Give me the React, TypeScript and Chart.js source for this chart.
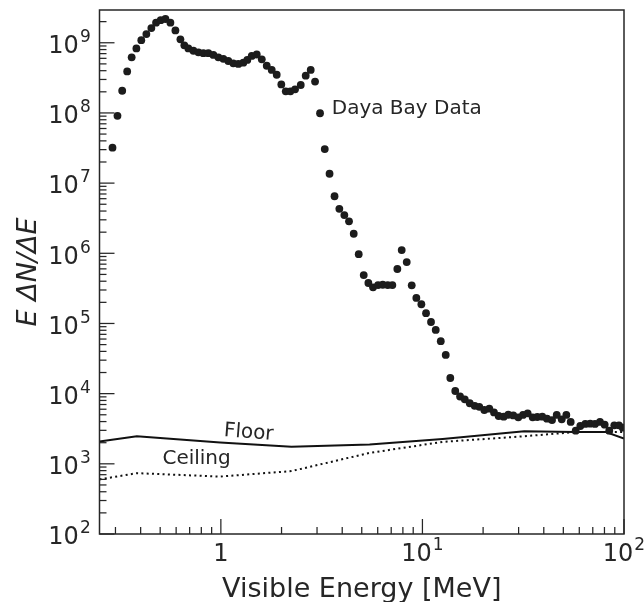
import React, { useEffect, useRef } from "react";
import { Chart, registerables } from "chart.js";

Chart.register(...registerables);

// Daya Bay spectrum (visible energy in MeV, E dN/dE)
const energy = [
  0.290, 0.307, 0.324, 0.343, 0.361, 0.381, 0.403, 0.427, 0.452, 0.477,
  0.503, 0.531, 0.562, 0.595, 0.630, 0.659, 0.690, 0.731, 0.774, 0.819,
  0.867, 0.918, 0.972, 1.029, 1.089, 1.153, 1.221, 1.293, 1.353, 1.423,
  1.507, 1.596, 1.689, 1.788, 1.893, 1.995, 2.099, 2.213, 2.334, 2.491,
  2.636, 2.791, 2.933, 3.105, 3.277, 3.461, 3.664, 3.871, 4.099, 4.323,
  4.562, 4.830, 5.114, 5.393, 5.689, 6.023, 6.355, 6.728, 7.093, 7.509,
  7.892, 8.358, 8.849, 9.330, 9.88, 10.42, 11.03, 11.64, 12.33, 13.05,
  13.75, 14.55, 15.37, 16.22, 17.17, 18.17, 19.15, 20.28, 21.47, 22.65,
  23.89, 25.30, 26.67, 28.24, 29.90, 31.54, 33.27, 35.23, 37.15, 39.33,
  41.50, 43.95, 46.37, 49.10, 51.75, 54.4, 57.6, 60.7, 64.3, 68.0,
  71.8, 76.0, 80.2, 84.5, 89.5, 94.4, 98.6,
];
const spectrum = [
  3.2e7, 9.1e7, 2.07e8, 3.9e8, 6.2e8, 8.3e8, 1.09e9, 1.33e9, 1.62e9, 1.93e9,
  2.10e9, 2.18e9, 1.93e9, 1.50e9, 1.12e9, 9.2e8, 8.3e8, 7.7e8, 7.3e8, 7.1e8,
  7.1e8, 6.7e8, 6.2e8, 5.9e8, 5.5e8, 5.1e8, 5.0e8, 5.2e8, 5.7e8, 6.5e8,
  6.8e8, 5.8e8, 4.7e8, 4.1e8, 3.5e8, 2.55e8, 2.03e8, 2.03e8, 2.17e8, 2.5e8,
  3.4e8, 4.1e8, 2.8e8, 9.9e7, 3.06e7, 1.36e7, 6.5e6, 4.3e6, 3.5e6, 2.85e6,
  1.90e6, 9.7e5, 4.9e5, 3.77e5, 3.27e5, 3.53e5, 3.56e5, 3.53e5, 3.53e5, 5.97e5,
  1.11e6, 7.5e5, 3.50e5, 2.31e5, 1.88e5, 1.40e5, 1.05e5, 8.1e4, 5.6e4, 3.56e4,
  1.67e4, 1.09e4, 9.1e3, 8.3e3, 7.3e3, 6.7e3, 6.5e3, 5.85e3, 6.1e3, 5.4e3,
  4.8e3, 4.7e3, 5.0e3, 4.9e3, 4.6e3, 4.97e3, 5.25e3, 4.6e3, 4.65e3, 4.7e3,
  4.4e3, 4.2e3, 4.97e3, 4.3e3, 4.97e3, 3.95e3, 2.97e3, 3.46e3, 3.70e3, 3.73e3,
  3.70e3, 3.95e3, 3.61e3, 2.97e3, 3.54e3, 3.54e3, 3.27e3,
];

// Floor (solid) and Ceiling (dotted) curves
const floorEnergy = [0.25, 0.383, 0.992, 2.24, 5.47, 12.6, 32.0, 56.9, 81.3, 100];
const floorValues = [2080, 2470, 2010, 1755, 1880, 2250, 2900, 2830, 2830, 2300];
const ceilingEnergy = [0.25, 0.383, 0.992, 2.24, 5.47, 12.6, 32.0, 56.9, 100];
const ceilingValues = [600, 736, 658, 788, 1430, 2055, 2470, 2830, 2830];

// Axis ranges and labelled ticks
const xRange = [0.25, 100];
const yRange = [100, 2.93e9];
const xTickPowers = [0, 1, 2];
const yTickPowers = [2, 3, 4, 5, 6, 7, 8, 9];

// Text annotations (anchored in data coordinates)
const annotations = [
  { text: "Daya Bay Data", x: 3.55, y: 9.6e7, angle: 0 },
  { text: "Floor", x: 1.03, y: 2490, angle: 4.5 },
  { text: "Ceiling", x: 0.513, y: 985, angle: 0 },
];

const xTitle = "Visible Energy [MeV]";
const yTitle = "E ΔN/ΔE";

const INK = "#262626";
const FONT = "'DejaVu Sans', 'Liberation Sans', sans-serif";

export default function App() {
  const ref = useRef<HTMLCanvasElement>(null);

  useEffect(() => {
    const canvas = ref.current;
    if (!canvas) return;

    const drawPower = (
      ctx: CanvasRenderingContext2D,
      p: number,
      x: number,
      baseline: number,
      align: "center" | "right"
    ) => {
      const base = p === 0 ? "1" : "10";
      const exp = p === 0 ? "" : String(p);
      ctx.font = `24px ${FONT}`;
      const wb = ctx.measureText(base).width;
      ctx.font = `17px ${FONT}`;
      const we = exp ? ctx.measureText(exp).width + 1 : 0;
      const total = wb + we;
      const start = align === "center" ? x - total / 2 : x - total;
      ctx.textAlign = "left";
      ctx.textBaseline = "alphabetic";
      ctx.font = `24px ${FONT}`;
      ctx.fillText(base, start, baseline);
      if (exp) {
        ctx.font = `17px ${FONT}`;
        ctx.fillText(exp, start + wb + 1, baseline - 11);
      }
    };

    const decor = {
      id: "mplDecor",
      afterDraw(chart: any) {
        const ctx: CanvasRenderingContext2D = chart.ctx;
        const { left, right, top, bottom } = chart.chartArea;
        const xs = chart.scales.x;
        const ys = chart.scales.y;
        ctx.save();
        ctx.fillStyle = INK;
        ctx.strokeStyle = INK;

        // inward ticks
        ctx.lineWidth = 1.25;
        const tickSet = (scale: any, horiz: boolean) => {
          const lo = Math.floor(Math.log10(scale.min));
          const hi = Math.ceil(Math.log10(scale.max));
          for (let p = lo; p <= hi; p++) {
            for (let m = 1; m <= 9; m++) {
              const v = m * Math.pow(10, p);
              if (v < scale.min * 0.9999 || v > scale.max * 1.0001) continue;
              const len = m === 1 ? 15 : 7;
              const pix = scale.getPixelForValue(v);
              ctx.beginPath();
              if (horiz) {
                ctx.moveTo(pix, bottom);
                ctx.lineTo(pix, bottom - len);
              } else {
                ctx.moveTo(left, pix);
                ctx.lineTo(left + len, pix);
              }
              ctx.stroke();
            }
          }
        };
        tickSet(xs, true);
        tickSet(ys, false);

        // frame
        ctx.lineWidth = 1.5;
        ctx.strokeRect(left, top, right - left, bottom - top);

        // tick labels
        xTickPowers.forEach((p) => {
          const px = xs.getPixelForValue(Math.pow(10, p));
          drawPower(ctx, p, px, bottom + 26.7, "center");
        });
        yTickPowers.forEach((p) => {
          const py = ys.getPixelForValue(Math.pow(10, p));
          drawPower(ctx, p, left - 8.8, py + 10.3, "right");
        });

        // axis titles
        ctx.font = `27px ${FONT}`;
        ctx.textAlign = "center";
        ctx.textBaseline = "alphabetic";
        ctx.fillText(xTitle, (left + right) / 2, bottom + 62.7);

        ctx.save();
        ctx.translate(36, (top + bottom) / 2);
        ctx.rotate(-Math.PI / 2);
        ctx.font = `italic 27px ${FONT}`;
        ctx.fillText(yTitle, 0, 0);
        ctx.restore();

        // annotations
        ctx.font = `20px ${FONT}`;
        ctx.textAlign = "left";
        annotations.forEach((a) => {
          const ax = xs.getPixelForValue(a.x);
          const ay = ys.getPixelForValue(a.y);
          ctx.save();
          ctx.translate(ax, ay);
          ctx.rotate((a.angle * Math.PI) / 180);
          ctx.fillText(a.text, 0, 0);
          ctx.restore();
        });

        ctx.restore();
      },
    };

    const hiddenAxis = (min: number, max: number) => ({
      type: "logarithmic" as const,
      min,
      max,
      display: true,
      ticks: { display: false },
      grid: { display: false, drawTicks: false },
      border: { display: false },
      title: { display: false },
    });

    const chart = new Chart(canvas, {
      type: "scatter",
      data: {
        datasets: [
          {
            label: "Daya Bay Data",
            data: energy.map((e, i) => ({ x: e, y: spectrum[i] })),
            pointRadius: 3.9,
            pointBackgroundColor: "#1c1c1c",
            pointBorderWidth: 0,
            showLine: false,
          },
          {
            label: "Floor",
            type: "line",
            data: floorEnergy.map((e, i) => ({ x: e, y: floorValues[i] })),
            borderColor: "#111111",
            borderWidth: 2,
            pointRadius: 0,
            tension: 0,
            fill: false,
          },
          {
            label: "Ceiling",
            type: "line",
            data: ceilingEnergy.map((e, i) => ({ x: e, y: ceilingValues[i] })),
            borderColor: "#111111",
            borderWidth: 2,
            borderDash: [2, 3.3],
            borderCapStyle: "butt",
            pointRadius: 0,
            tension: 0,
            fill: false,
          },
        ],
      } as any,
      options: {
        responsive: false,
        maintainAspectRatio: false,
        animation: false,
        devicePixelRatio: 1,
        layout: { padding: { left: 99.5, right: 20, top: 10, bottom: 68 } },
        plugins: { legend: { display: false }, tooltip: { enabled: false } },
        scales: {
          x: hiddenAxis(xRange[0], xRange[1]),
          y: hiddenAxis(yRange[0], yRange[1]),
        },
      } as any,
      plugins: [decor],
    });

    return () => chart.destroy();
  }, []);

  return (
    <div
      style={{
        position: "fixed",
        left: 0,
        top: 0,
        width: 644,
        height: 602,
        background: "#ffffff",
      }}
    >
      <canvas ref={ref} width={644} height={602} style={{ display: "block" }} />
    </div>
  );
}
